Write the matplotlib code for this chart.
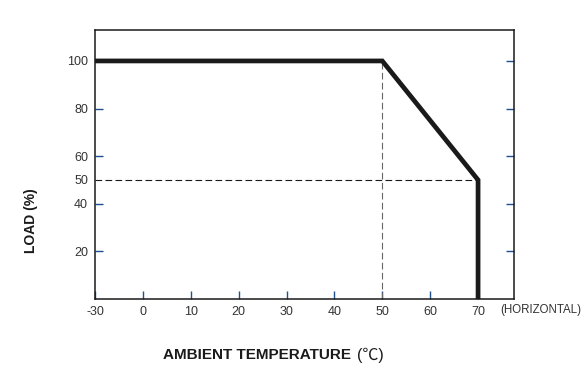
import matplotlib.pyplot as plt
import numpy as np

# Derating curve: ambient temperature (C) vs load (%)
temp = [-30, 50, 70, 70]
load = [100, 100, 50, 0]

x_ticks = [-30, 0, 10, 20, 30, 40, 50, 60, 70]
y_ticks = [20, 40, 60, 80, 100]
y_extra = [50]

knee_temp = 50
knee_load = 50
max_temp = 70

tick_color = "#1f4f8f"
ink = "#1a1a1a"
label_font = ["Liberation Sans", "Noto Sans CJK SC"]


# the -30..0 part of the axis is compressed (broken scale)
def fwd(x):
    x = np.asarray(x, dtype=float)
    return np.where(x < 0, x / 3.0, x)


def inv(x):
    x = np.asarray(x, dtype=float)
    return np.where(x < 0, x * 3.0, x)


fig = plt.figure(figsize=(5.87, 3.87), dpi=100)
ax = fig.add_axes([0.1618, 0.2274, 0.7138, 0.6951])
ax.set_xscale("function", functions=(fwd, inv))
ax.set_xlim(-30, 77.5)
ax.set_ylim(0, 113)

# guide lines
ax.plot([knee_temp, knee_temp], [0, 100], color="#666666", lw=0.8,
        dashes=(6, 3))
ax.plot([-30, max_temp], [knee_load, knee_load], color=ink, lw=0.8,
        dashes=(6, 3))

# derating curve
ax.plot(temp, load, color=ink, lw=3.4, solid_joinstyle="miter",
        solid_capstyle="butt", clip_on=False)

for s in ax.spines.values():
    s.set_color(ink)
    s.set_linewidth(1.1)

ax.set_xticks(x_ticks)
ax.set_xticklabels([str(v) for v in x_ticks])
ax.set_yticks(y_ticks)
ax.set_yticklabels([str(v) for v in y_ticks])
ax.set_yticks(y_extra, minor=True)
ax.set_yticklabels([str(v) for v in y_extra], minor=True)
ax.xaxis.set_minor_locator(plt.NullLocator())

ax.tick_params(axis="both", which="major", direction="in", length=6,
               width=1, color=tick_color, labelsize=9, labelcolor="#333333",
               pad=5)
ax.tick_params(axis="y", which="major", left=True, right=True)
ax.tick_params(axis="y", which="minor", length=0, right=False,
               labelsize=9, labelcolor="#333333", pad=5)
for lab in ax.get_xticklabels() + ax.get_yticklabels() + ax.get_yticklabels(minor=True):
    lab.set_family("Liberation Sans")

fig.text(500 / 587, 1 - 310 / 387, "(HORIZONTAL)", ha="left", va="center",
         fontsize=8.3, color="#333333", family="Liberation Sans")

fig.text(0.053, 0.429, "LOAD (%)", rotation=90, ha="center", va="center",
         fontsize=10, fontweight="bold", color=ink, family=label_font)
fig.text(163 / 587, 0.082, "AMBIENT TEMPERATURE", ha="left", va="center",
         fontsize=11, fontweight="bold", color=ink, family=label_font)
fig.text(357 / 587, 0.082, "(\u2103)", ha="left", va="center",
         fontsize=11.5, color=ink, family=label_font)

fig.savefig("out.png", dpi=100)
